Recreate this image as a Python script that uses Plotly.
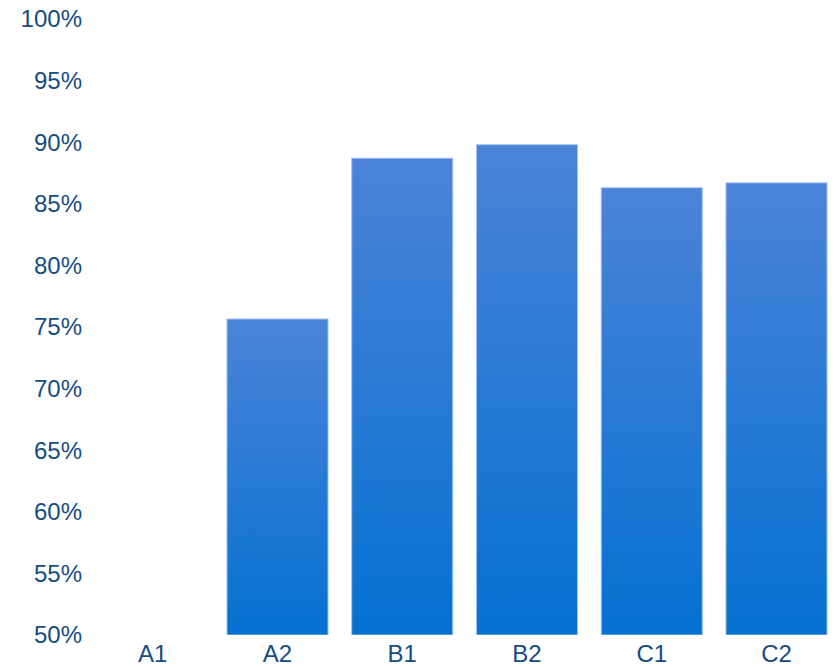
import plotly.graph_objects as go

categories = ["A1", "A2", "B1", "B2", "C1", "C2"]
values = [None, 0.7565, 0.887, 0.898, 0.863, 0.867]
y_ticks = [0.50, 0.55, 0.60, 0.65, 0.70, 0.75, 0.80, 0.85, 0.90, 0.95, 1.00]

Y_MIN, Y_MAX = 0.50, 1.00
HALF_W = 0.405
TOP_COLOR = "#4c83d8"
BOTTOM_COLOR = "#0571d1"
EDGE_COLOR = "#a3c4ef"
TEXT_COLOR = "#154c82"

fig = go.Figure()
for i, (cat, v) in enumerate(zip(categories, values)):
    if v is None:
        continue
    xs = [i - HALF_W, i + HALF_W, i + HALF_W, i - HALF_W, i - HALF_W]
    ys = [Y_MIN, Y_MIN, v, v, Y_MIN]
    fig.add_trace(go.Scatter(
        x=xs, y=ys, mode="lines", fill="toself",
        fillgradient=dict(type="vertical",
                          colorscale=[[0, BOTTOM_COLOR], [1, TOP_COLOR]]),
        line=dict(color=EDGE_COLOR, width=1),
        name=cat, hoverinfo="skip", showlegend=False,
    ))

fig.update_layout(
    width=837, height=667,
    margin=dict(l=90, r=0, t=19, b=32),
    paper_bgcolor="white", plot_bgcolor="white",
    font=dict(family="Liberation Sans, Arial, sans-serif", size=24, color=TEXT_COLOR),
    showlegend=False,
)
fig.update_xaxes(
    range=[-0.503, 5.485], tickmode="array",
    tickvals=list(range(len(categories))), ticktext=categories,
    showgrid=False, zeroline=False, showline=False, ticks="",
    ticklabelstandoff=2, automargin=False,
)
fig.update_yaxes(
    range=[Y_MIN, Y_MAX], tickmode="array", tickvals=y_ticks,
    tickformat=".0%", showgrid=False, zeroline=False, showline=False,
    ticks="", ticklabelstandoff=7, automargin=False,
)
fig.write_html("out.html")
